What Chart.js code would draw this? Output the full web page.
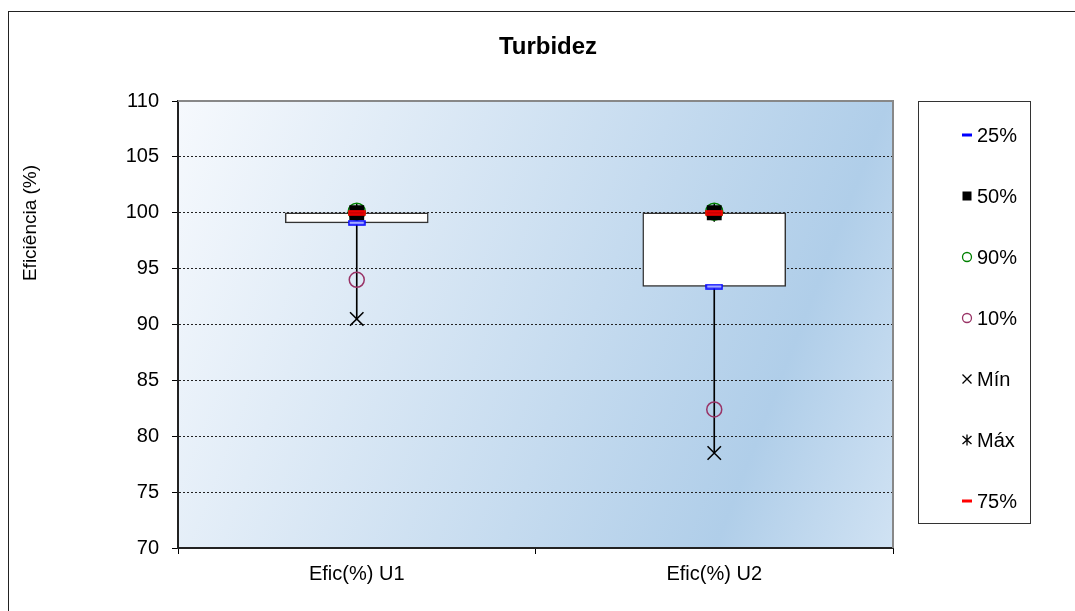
<!DOCTYPE html>
<html>
<head>
<meta charset="utf-8">
<title>Turbidez</title>
<script src="https://cdn.jsdelivr.net/npm/chart.js@4/dist/chart.umd.min.js"></script>
<style>
  html, body { margin: 0; padding: 0; background: #fff; }
  canvas { display: block; }
</style>
</head>
<body>
<canvas id="boxChart" width="1075" height="611"></canvas>
<script>
// values
const categories = ['Efic(%) U1', 'Efic(%) U2'];
const p25 = [99.1, 93.4];
const p50 = [100, 100];
const p90 = [100.1, 100.1];
const p10 = [94.0, 82.4];
const pMin = [90.5, 78.5];
const pMax = [100, 100];
const p75 = [100, 100];
const yMin = 70, yMax = 110, yStep = 5;

const FONT = 'Arial, "Liberation Sans", sans-serif';

// small marker images for the 25% / 75% dashes
function dashImage(fill, stroke) {
  const c = document.createElement('canvas');
  c.width = 18; c.height = 6;
  const x = c.getContext('2d');
  x.fillStyle = fill;
  x.fillRect(1, 1, 16, 4);
  x.strokeStyle = stroke;
  x.lineWidth = 1.5;
  x.strokeRect(1, 1, 16, 4);
  return c;
}

function markers(label, data, style, order) {
  return Object.assign({
    type: 'line',
    label,
    data,
    showLine: false,
    order,
    pointBackgroundColor: 'transparent',
    pointHoverRadius: 0
  }, style);
}

// legend entries, in the order of the reference
const legendItems = [
  { text: '25%', draw: (c, x, y) => { c.fillStyle = '#0000ff'; c.fillRect(x - 5, y - 1.5, 10, 3); } },
  { text: '50%', draw: (c, x, y) => { c.fillStyle = '#000'; c.fillRect(x - 4.5, y - 4.5, 9, 9); } },
  { text: '90%', draw: (c, x, y) => { c.strokeStyle = '#008000'; c.lineWidth = 1.3; c.beginPath(); c.arc(x, y, 4.5, 0, Math.PI * 2); c.stroke(); } },
  { text: '10%', draw: (c, x, y) => { c.strokeStyle = '#993366'; c.lineWidth = 1.3; c.beginPath(); c.arc(x, y, 4.5, 0, Math.PI * 2); c.stroke(); } },
  { text: 'Mín', draw: (c, x, y) => {
      c.strokeStyle = '#000'; c.lineWidth = 1.3; c.beginPath();
      c.moveTo(x - 4.5, y - 4.5); c.lineTo(x + 4.5, y + 4.5);
      c.moveTo(x - 4.5, y + 4.5); c.lineTo(x + 4.5, y - 4.5); c.stroke(); } },
  { text: 'Máx', draw: (c, x, y) => {
      c.strokeStyle = '#000'; c.lineWidth = 1.3; c.beginPath();
      c.moveTo(x, y - 5.5); c.lineTo(x, y + 5.5);
      c.moveTo(x - 4.5, y - 4); c.lineTo(x + 4.5, y + 4);
      c.moveTo(x - 4.5, y + 4); c.lineTo(x + 4.5, y - 4); c.stroke(); } },
  { text: '75%', draw: (c, x, y) => { c.fillStyle = '#ff0000'; c.fillRect(x - 5, y - 1.5, 10, 3); } }
];

const decorPlugin = {
  id: 'decor',
  beforeDraw(chart) {
    const { ctx, chartArea: a } = chart;
    ctx.save();
    ctx.fillStyle = '#fff';
    ctx.fillRect(0, 0, chart.width, chart.height);
    ctx.strokeStyle = '#222';
    ctx.lineWidth = 1;
    ctx.strokeRect(8.5, 11.5, chart.width + 20, chart.height + 20);

    const w = a.right - a.left, h = a.bottom - a.top;
    const g = ctx.createLinearGradient(a.left, a.top, a.left + w * 1.08, a.top + h * 0.67);
    g.addColorStop(0, '#f6f9fd');
    g.addColorStop(0.8, '#b0cee9');
    g.addColorStop(1, '#d0e2f3');
    ctx.fillStyle = g;
    ctx.fillRect(a.left, a.top, w, h);
    ctx.restore();
  },
  beforeDatasetsDraw(chart) {
    const { ctx, chartArea: a } = chart;
    ctx.save();
    ctx.strokeStyle = '#888';
    ctx.lineWidth = 2;
    ctx.beginPath();
    ctx.moveTo(a.left, a.top);
    ctx.lineTo(a.right, a.top);
    ctx.lineTo(a.right, a.bottom);
    ctx.stroke();
    ctx.restore();
  },
  afterDraw(chart) {
    const { ctx } = chart;
    ctx.save();
    // title
    ctx.fillStyle = '#000';
    ctx.font = 'bold 24px ' + FONT;
    ctx.textAlign = 'center';
    ctx.textBaseline = 'middle';
    ctx.fillText('Turbidez', 548, 47);

    // y axis title
    ctx.save();
    ctx.translate(31, 223);
    ctx.rotate(-Math.PI / 2);
    ctx.font = '19px ' + FONT;
    ctx.fillText('Eficiência (%)', 0, 0);
    ctx.restore();

    // legend box
    ctx.fillStyle = '#fff';
    ctx.fillRect(918, 101, 112, 422);
    ctx.strokeStyle = '#333';
    ctx.lineWidth = 1;
    ctx.strokeRect(918.5, 101.5, 112, 422);
    ctx.font = '20px ' + FONT;
    ctx.textAlign = 'left';
    legendItems.forEach((it, i) => {
      const y = 135 + i * 61;
      it.draw(ctx, 967, y);
      ctx.fillStyle = '#000';
      ctx.fillText(it.text, 977, y + 1);
    });
    ctx.restore();
  }
};

new Chart(document.getElementById('boxChart').getContext('2d'), {
  type: 'bar',
  data: {
    labels: categories,
    datasets: [
      markers('75%', p75, { pointStyle: dashImage('#cc0000', '#ff0000') }, 1),
      markers('25%', p25, { pointStyle: dashImage('#a3aaff', '#0000ff') }, 2),
      markers('50%', p50, { pointStyle: 'rect', pointRadius: 10.5, pointBackgroundColor: '#000', pointBorderColor: '#000', pointBorderWidth: 0 }, 3),
      markers('90%', p90, { pointStyle: 'circle', pointRadius: 8.5, pointBorderColor: '#008000', pointBorderWidth: 1.5 }, 4),
      markers('Máx', pMax, { pointStyle: 'star', pointRadius: 9, pointBorderColor: '#000', pointBorderWidth: 1.5 }, 5),
      markers('Mín', pMin, { pointStyle: 'crossRot', pointRadius: 9.5, pointBorderColor: '#000', pointBorderWidth: 1.5 }, 6),
      markers('10%', p10, { pointStyle: 'circle', pointRadius: 7.5, pointBorderColor: '#993366', pointBorderWidth: 1.5 }, 7),
      {
        label: 'box',
        data: categories.map((_, i) => [p25[i], p75[i]]),
        backgroundColor: '#ffffff',
        borderColor: '#333',
        borderWidth: 1.5,
        borderSkipped: false,
        barThickness: 143,
        grouped: false,
        order: 8
      },
      {
        label: 'whisker',
        data: categories.map((_, i) => [pMin[i], p25[i]]),
        backgroundColor: '#000',
        borderWidth: 0,
        barThickness: 1,
        grouped: false,
        order: 9
      }
    ]
  },
  options: {
    responsive: false,
    animation: false,
    events: [],
    layout: { padding: { left: 0, right: 182, top: 101, bottom: 0 } },
    plugins: {
      legend: { display: false },
      title: { display: false },
      tooltip: { enabled: false }
    },
    scales: {
      x: {
        offset: true,
        grid: {
          offset: true,
          drawOnChartArea: false,
          drawTicks: true,
          tickLength: 6,
          tickColor: '#000',
          tickWidth: 1
        },
        border: { display: true, color: '#222', width: 2 },
        ticks: { color: '#000', font: { family: FONT, size: 20 }, padding: 8 },
        afterFit: s => { s.height = 63; }
      },
      y: {
        min: yMin,
        max: yMax,
        grid: {
          color: '#222',
          lineWidth: 1,
          drawTicks: true,
          tickLength: 6,
          tickColor: '#000',
          tickWidth: 1,
          tickBorderDash: [0, 0]
        },
        border: { display: true, color: '#222', width: 2, dash: [2, 2] },
        ticks: { stepSize: yStep, color: '#000', font: { family: FONT, size: 20 }, padding: 13 },
        afterFit: s => { s.width = 178; }
      }
    }
  },
  plugins: [decorPlugin]
});
</script>
</body>
</html>
